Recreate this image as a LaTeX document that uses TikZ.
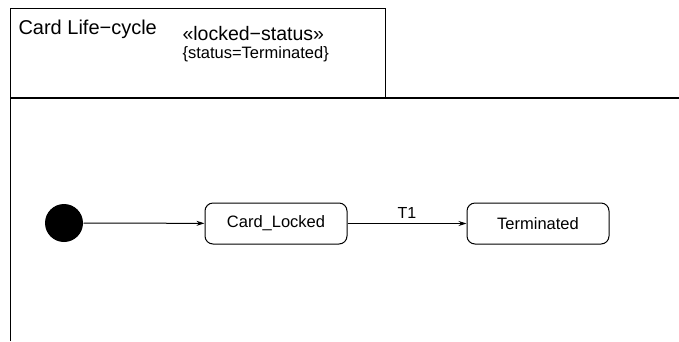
\documentclass[tikz,border=0pt]{standalone}
\usepackage{fontspec}
\setmainfont{Liberation Sans}
\usetikzlibrary{arrows.meta}

\tikzset{
  state/.style={draw,rounded corners=8pt,minimum width=142pt,minimum height=41pt,
    inner sep=0pt,font=\fontsize{16.5}{19}\selectfont},
  frametext/.style={anchor=base west,inner sep=0pt}
}

\begin{document}
\begin{tikzpicture}[x=1pt,y=-1pt,line width=1pt,>={Stealth[length=8pt,width=5pt]}]
\useasboundingbox (0,0) rectangle (679,341);
% frame and header
\draw (10,341) -- (10,8) -- (385,8) -- (385,98);
\draw[line width=1.4pt] (10,98) -- (679,98);
\node[frametext,font=\fontsize{20}{24}\selectfont] (title) at (18,34) {Card Life−cycle};
\node[frametext,font=\fontsize{19.5}{24}\selectfont,text depth=0pt] (stereo) at (182,40.5) {«locked−status»};
\node[frametext,font=\fontsize{16.5}{19}\selectfont,text height=11pt] (constr) at (182,58) {\{status=Terminated\}};
% states
\node[circle,fill=black,minimum size=38pt,inner sep=0pt] (init) at (64,223) {};
\node[state] (locked) at (276,223.5) {Card\_Locked};
\node[state] (term) at (538,223.5) {Terminated};
\draw[->] (init) -- (locked);
\draw[->] (locked) -- node[above=4.5pt,inner sep=0pt,font=\fontsize{16}{19}\selectfont] {T1} (term);
\end{tikzpicture}
\end{document}
